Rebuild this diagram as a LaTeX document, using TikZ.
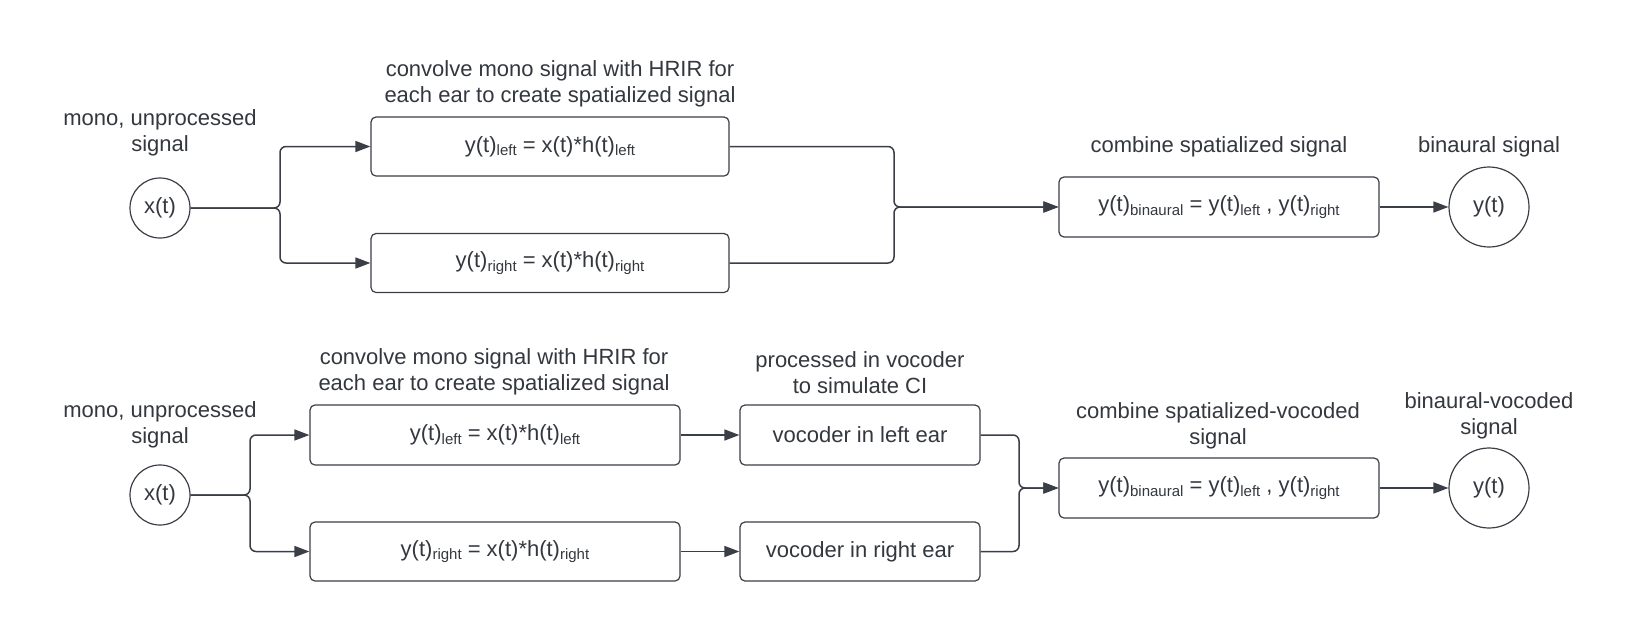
\documentclass[tikz,border=0pt]{standalone}
\usepackage{fontspec}
\setmainfont{Liberation Sans}
\usetikzlibrary{arrows.meta}
\definecolor{txt}{RGB}{51,55,62}
\definecolor{ln}{RGB}{58,62,70}
\newcommand\sbs[1]{\raisebox{-3.5pt}{\fontsize{15}{15}\selectfont #1}}
\tikzset{
  every node/.style={text=txt, font=\fontsize{22}{26}\selectfont},
  blk/.style={draw=ln, line width=1.2pt, rounded corners=5pt, inner sep=0pt, minimum height=59pt},
  sig/.style={draw=ln, line width=1.2pt, circle, inner sep=0pt},
  lbl/.style={align=center, inner sep=0pt},
  conn/.style={draw=ln, line width=1.5pt, rounded corners=6pt, -{Triangle[length=15pt,width=11pt]}},
}
\begin{document}
\begin{tikzpicture}[x=1pt,y=-1pt]
\useasboundingbox (0,0) rectangle (1650,622);
% ---------- top row ----------
\node[lbl] (t1a) at (160,133) {mono, unprocessed\\signal};
\node[sig, minimum size=60pt] (x1) at (160,208) {x(t)};
\node[lbl] (t1b) at (560,83.5) {convolve mono signal with HRIR for\\each ear to create spatialized signal};
\node[blk, minimum width=358pt] (l1) at (550,146.5) {y(t)\sbs{left} = x(t)*h(t)\sbs{left}};
\node[blk, minimum width=358pt] (r1) at (550,263) {y(t)\sbs{right} = x(t)*h(t)\sbs{right}};
\node[lbl] (t1c) at (1219,147) {combine spatialized signal};
\node[blk, minimum width=320pt, minimum height=60pt] (c1) at (1219,207) {y(t)\sbs{binaural} = y(t)\sbs{left} , y(t)\sbs{right}};
\node[lbl] (t1d) at (1489,147) {binaural signal};
\node[sig, minimum size=80pt] (o1) at (1489,207) {y(t)};
\coordinate (s1) at (280,208);
\coordinate (m1) at (894,207);
\draw[conn] (x1.east) -- (s1) |- (l1.west);
\draw[conn] (x1.east) -- (s1) |- (r1.west);
\draw[conn] (l1.east) -| (m1) -- (c1.west);
\draw[conn] (r1.east) -| (m1) -- (c1.west);
\draw[conn] (c1.east) -- (o1.west);
% ---------- bottom row ----------
\node[lbl] (t2a) at (160,424.5) {mono, unprocessed\\signal};
\node[sig, minimum size=60pt] (x2) at (160,495) {x(t)};
\node[lbl] (t2b) at (494,371.5) {convolve mono signal with HRIR for\\each ear to create spatialized signal};
\node[blk, minimum width=370pt, minimum height=60pt] (l2) at (495,435) {y(t)\sbs{left} = x(t)*h(t)\sbs{left}};
\node[blk, minimum width=370pt] (r2) at (495,551.5) {y(t)\sbs{right} = x(t)*h(t)\sbs{right}};
\node[lbl] (t2c) at (860,372.5) {processed in vocoder\\to simulate CI};
\node[blk, minimum width=240pt, minimum height=60pt] (v1) at (860,435) {vocoder in left ear};
\node[blk, minimum width=240pt] (v2) at (860,551.5) {vocoder in right ear};
\node[lbl] (t2d) at (1218,425.5) {combine spatialized-vocoded\\signal};
\node[blk, minimum width=320pt, minimum height=60pt] (c2) at (1219,488) {y(t)\sbs{binaural} = y(t)\sbs{left} , y(t)\sbs{right}};
\node[lbl] (t2e) at (1489,416) {binaural-vocoded\\signal};
\node[sig, minimum size=80pt] (o2) at (1489,488) {y(t)};
\coordinate (s2) at (250,495);
\coordinate (m2) at (1019,488);
\draw[conn] (x2.east) -- (s2) |- (l2.west);
\draw[conn] (x2.east) -- (s2) |- (r2.west);
\draw[conn] (l2.east) -- (v1.west);
\draw[conn] (r2.east) -- (v2.west);
\draw[conn] (v1.east) -| (m2) -- (c2.west);
\draw[conn] (v2.east) -| (m2) -- (c2.west);
\draw[conn] (c2.east) -- (o2.west);
\end{tikzpicture}
\end{document}
